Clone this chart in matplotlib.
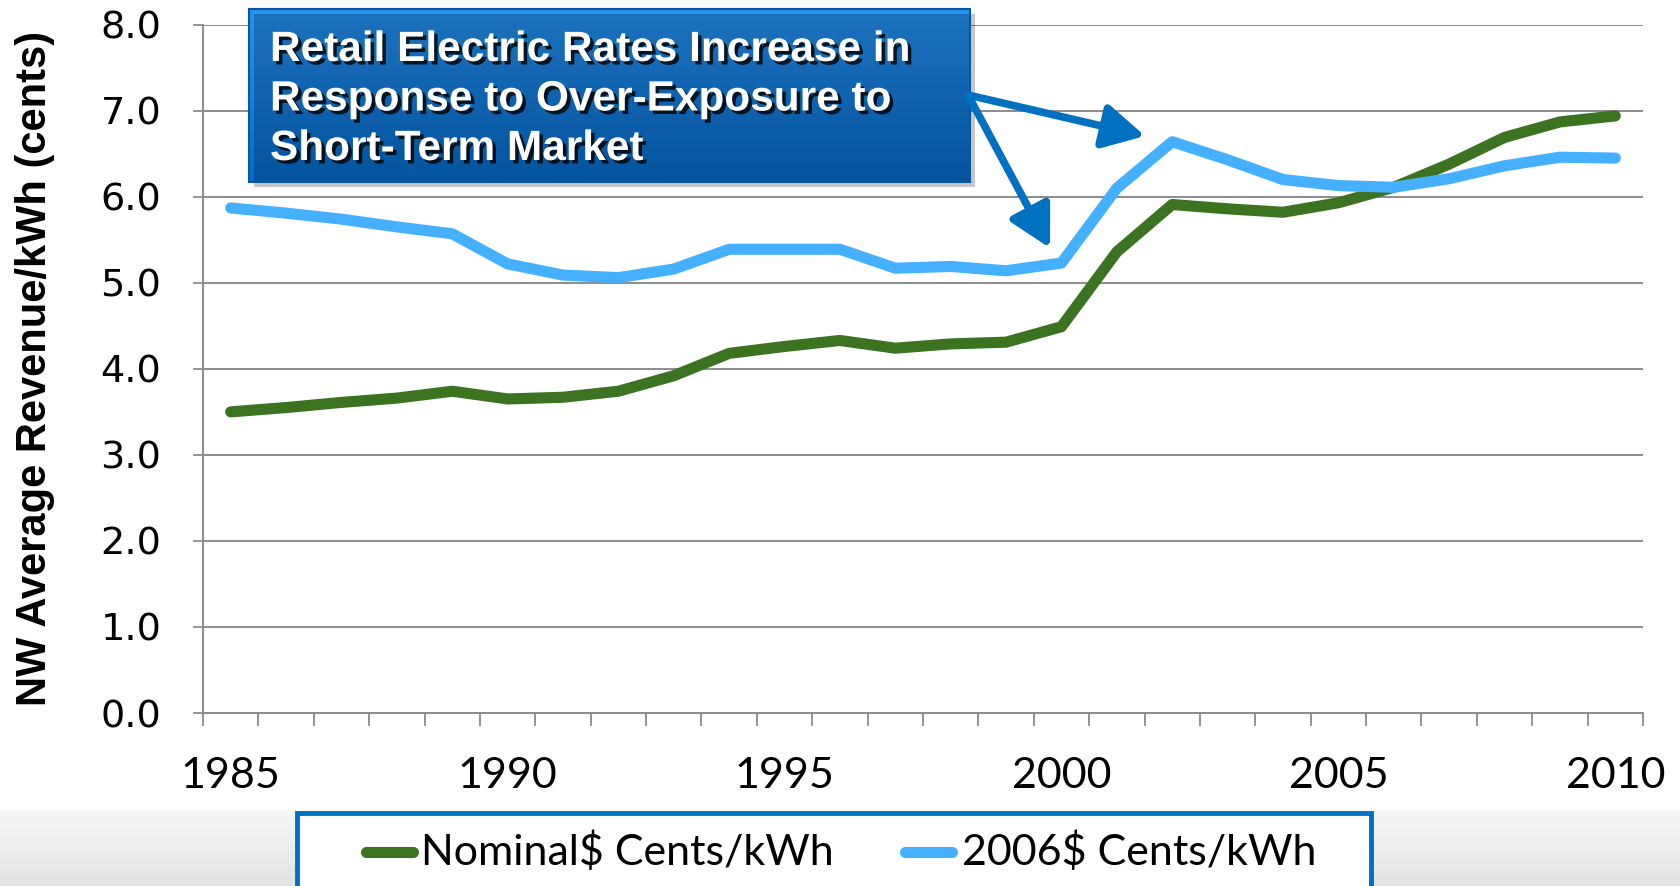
# NW retail electric rates, nominal vs 2006 dollars
import matplotlib
matplotlib.use("Agg")
import matplotlib.pyplot as plt
import matplotlib.patheffects as pe
from matplotlib.patches import Rectangle, FancyArrowPatch
from matplotlib.ticker import FixedLocator
import numpy as np

years = list(range(1985, 2011))
nominal = [3.50, 3.55, 3.61, 3.66, 3.74, 3.65, 3.67, 3.74, 3.92, 4.18, 4.26, 4.33, 4.24,
           4.29, 4.31, 4.49, 5.36, 5.91, 5.86, 5.82, 5.93, 6.11, 6.38, 6.69, 6.87, 6.94]
real_2006 = [5.87, 5.81, 5.74, 5.65, 5.57, 5.22, 5.09, 5.06, 5.16, 5.39, 5.39, 5.39, 5.17,
             5.19, 5.14, 5.23, 6.10, 6.64, 6.43, 6.20, 6.13, 6.11, 6.21, 6.36, 6.46, 6.45]
series_names = ["Nominal$ Cents/kWh", "2006$ Cents/kWh"]
series_colors = ["#3B7320", "#45B0FF"]
y_ticks = [0, 1, 2, 3, 4, 5, 6, 7, 8]
x_labels = [1985, 1990, 1995, 2000, 2005, 2010]
y_title = "NW Average Revenue/kWh (cents)"
callout_lines = ["Retail Electric Rates Increase in",
                 "Response to Over-Exposure to",
                 "Short-Term Market"]

W, H = 1681, 886
fig = plt.figure(figsize=(W / 100, H / 100), dpi=100)

# slide background: white with a grey band at the bottom
bg = fig.add_axes([0, 0, 1, 1], zorder=0)
shade = np.ones(H)
shade[810:] = np.linspace(0.965, 0.885, H - 810)
bg.imshow(shade[:, None], extent=[0, W, H, 0], aspect="auto", cmap="gray", vmin=0, vmax=1)
bg.set_xlim(0, W)
bg.set_ylim(H, 0)
bg.axis("off")

# main chart
ax = fig.add_axes([203 / W, 1 - 713 / H, 1440 / W, 688.3 / H], zorder=2)
ax.set_facecolor("none")
grid_col = "#8C8C8C"

ax.plot(years, nominal, color=series_colors[0], lw=8, solid_capstyle="round", zorder=3)
ax.plot(years, real_2006, color=series_colors[1], lw=8, solid_capstyle="round", zorder=4)

ax.set_xlim(years[0] - 0.5, years[-1] + 0.5)
ax.set_ylim(0, 8)
ax.set_yticks(y_ticks)
ax.set_yticklabels(["%.1f" % v for v in y_ticks], fontsize=27.5, family="DejaVu Sans")
ax.set_xticks(x_labels)
ax.set_xticklabels([str(v) for v in x_labels], fontsize=31, family=["Lato", "DejaVu Sans"])
ax.xaxis.set_minor_locator(FixedLocator([y - 0.5 for y in years] + [years[-1] + 0.5]))
ax.tick_params(axis="x", which="major", length=0, pad=32)
ax.tick_params(axis="x", which="minor", length=9, width=1.3, color=grid_col)
ax.tick_params(axis="y", length=7, width=1.3, color=grid_col, pad=23)
ax.grid(axis="y", color=grid_col, lw=1.4)
ax.set_axisbelow(True)
for s in ["top", "right"]:
    ax.spines[s].set_visible(False)
for s in ["left", "bottom"]:
    ax.spines[s].set_color(grid_col)
    ax.spines[s].set_linewidth(1.4)

fig.text(35 / W, 1 - 368 / H, y_title, rotation=90, ha="center", va="center",
         fontsize=30, fontweight="bold", family=["Liberation Sans", "DejaVu Sans"])

# overlay in pixel coordinates for callout and legend
ov = fig.add_axes([0, 0, 1, 1], zorder=5)
ov.patch.set_visible(False)

bx0, bx1, by0, by1 = 249, 970, 9, 182
ov.add_patch(Rectangle((bx0 + 5, by0 + 5), bx1 - bx0, by1 - by0, color="black", alpha=0.22, lw=0))
grad = np.linspace(0, 1, 120)[:, None]
top_c = np.array([0.15, 0.58, 0.96])
bot_c = np.array([0.02, 0.42, 0.80])
img = (top_c[None, None, :] * (1 - grad[:, :, None]) + bot_c[None, None, :] * grad[:, :, None])
ov.imshow(img, extent=[bx0, bx1, by1, by0], aspect="auto", interpolation="bilinear")
ov.add_patch(Rectangle((bx0, by0), bx1 - bx0, by1 - by0, fill=False, ec="#0A57A0", lw=1.5))
for i, line in enumerate(callout_lines):
    ov.text(270, 61 + i * 49.5, line, color="white", fontsize=30.5, fontweight="bold",
            family=["Liberation Sans", "DejaVu Sans"], ha="left", va="baseline",
            path_effects=[pe.SimplePatchShadow(offset=(2.5, -2.5), shadow_rgbFace="black", alpha=0.8),
                          pe.Normal()])

# arrows from callout to the 2000 and 2002 points
for tip in [(1145, 136), (1050, 248)]:
    arr = FancyArrowPatch((968, 95), tip, arrowstyle="-|>,head_length=0.5,head_width=0.27",
                          mutation_scale=50, color="#0070C0", lw=5.5, shrinkA=0, shrinkB=0,
                          path_effects=[pe.SimplePatchShadow(offset=(2, -2), alpha=0.3), pe.Normal()])
    ov.add_patch(arr)

# legend box
ov.add_patch(Rectangle((297, 813), 1074, 100, fc="white", ec="#0070C0", lw=3.5))
leg_x = [(366, 413, 421), (905, 952, 962)]
for (l0, l1, tx), name, col in zip(leg_x, series_names, series_colors):
    ov.plot([l0, l1], [852, 852], color=col, lw=8, solid_capstyle="round")
    ov.text(tx, 852, name, fontsize=31, family=["Lato", "DejaVu Sans"], ha="left", va="center")

ov.set_xlim(0, W)
ov.set_ylim(H, 0)
ov.axis("off")

fig.savefig("out.png", dpi=100)
